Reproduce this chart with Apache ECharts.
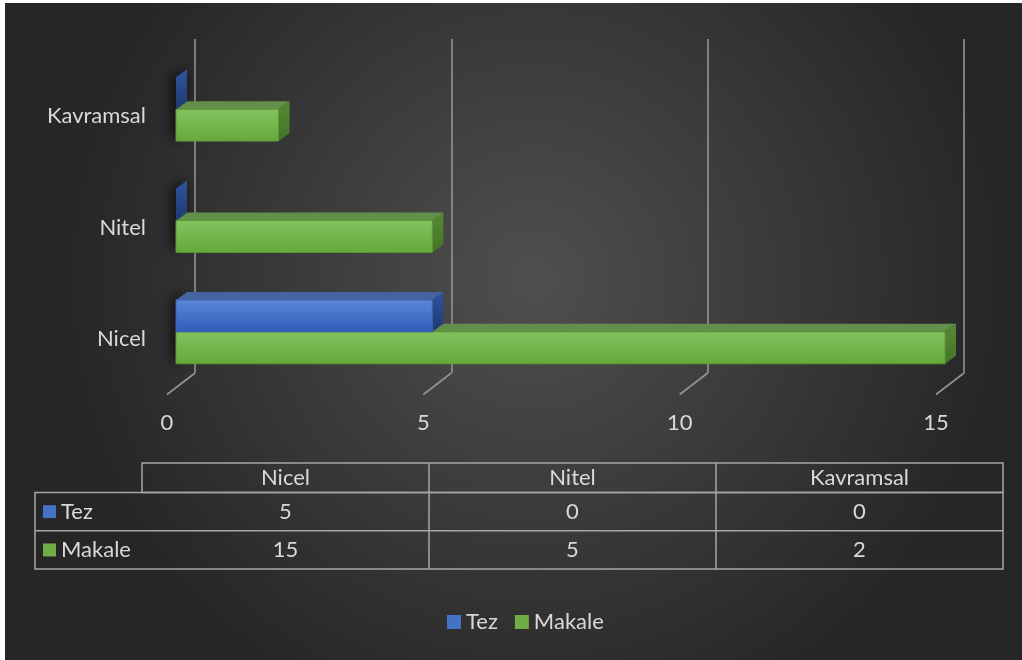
<!DOCTYPE html>
<html>
<head>
<meta charset="utf-8">
<style>
html,body{margin:0;padding:0;background:#ffffff;}
#chart{width:1022px;height:660px;}
</style>
<script src="https://cdn.jsdelivr.net/npm/echarts@6/dist/echarts.min.js"></script>
</head>
<body>
<div id="chart"></div>
<script>
// ---- data ----
const categories = ['Nicel', 'Nitel', 'Kavramsal'];
const seriesNames = ['Tez', 'Makale'];
const tezValues = [5, 0, 0];
const makaleValues = [15, 5, 2];
const xTicks = [0, 5, 10, 15];

// ---- style / layout ----
const FONT = 'Lato';
const FS = 22;
const TXT = '#d9d9d9';
const GRID_W = 769, GRID_H = 334;
const DEPTH = [11, -8];            // bar depth vector
const FLOOR = [-28, 21.5];          // back plane -> front floor
const colors = {
  Tez: {front: ['#5c87d8', '#2e5cb9'], top: '#45639f', side: ['#2f54a0', '#1f3a72'], edge: '#3a64b4', legend: '#4472c4'},
  Makale: {front: ['#85c25f', '#66a83a'], top: '#62904a', side: ['#568a33', '#457328'], edge: '#5a9a35', legend: '#70ad47'}
};

const chart = echarts.init(document.getElementById('chart'), null, {renderer: 'canvas'});

function barGeom(api, upper) {
  const v = api.value(0), cat = api.value(1);
  const p0 = api.coord([0, cat]);
  const p1 = api.coord([v, cat]);
  const band = api.size([0, 1])[1];
  const h = band * 0.287;
  const y0 = upper ? p0[1] - h : p0[1];
  return {x0: p0[0], x1: p1[0], y0: y0, y1: y0 + h, h: h};
}

function shadowRender(upper) {
  return function (params, api) {
    const g = barGeom(api, upper);
    const dx = DEPTH[0], dy = DEPTH[1];
    return {
      type: 'polygon',
      shape: {points: [[g.x0, g.y0], [g.x0 + dx, g.y0 + dy], [g.x0 + dx, g.y1 + dy], [g.x0, g.y1]]},
      style: {fill: 'rgba(20,20,20,1)', shadowBlur: 14, shadowColor: 'rgba(0,0,0,0.9)', shadowOffsetX: -3}
    };
  };
}

function barRender(name, upper) {
  const c = colors[name];
  return function (params, api) {
    const g = barGeom(api, upper);
    const x0 = g.x0, x1 = g.x1, y0 = g.y0, y1 = g.y1;
    const dx = DEPTH[0], dy = DEPTH[1];
    const children = [];
    children.push({
      type: 'polygon',
      shape: {points: [[x0, y0], [x1, y0], [x1 + dx, y0 + dy], [x0 + dx, y0 + dy]]},
      style: {fill: c.top}
    });
    children.push({
      type: 'polygon',
      shape: {points: [[x1, y0], [x1 + dx, y0 + dy], [x1 + dx, y1 + dy], [x1, y1]]},
      style: {fill: new echarts.graphic.LinearGradient(0, 0, 0, 1, [{offset: 0, color: c.side[0]}, {offset: 1, color: c.side[1]}])}
    });
    if (x1 - x0 > 0.5) {
      children.push({
        type: 'rect',
        shape: {x: x0, y: y0, width: x1 - x0, height: g.h},
        style: {
          fill: new echarts.graphic.LinearGradient(0, 0, 0, 1, [{offset: 0, color: c.front[0]}, {offset: 1, color: c.front[1]}]),
          stroke: c.edge, lineWidth: 1
        }
      });
    }
    return {type: 'group', children: children};
  };
}

// ---- table (from data arrays) ----
const T = {left: 35, labelRight: 142, colW: 287, top: 463, headH: 29.5, rowH: 38.3};
const tableEls = [];
const lineStyle = {stroke: '#a6a6a6', lineWidth: 1.5, fill: null};
const tRight = T.labelRight + T.colW * categories.length;
const tBottom = T.top + T.headH + T.rowH * seriesNames.length;
tableEls.push({type: 'rect', shape: {x: T.labelRight, y: T.top, width: tRight - T.labelRight, height: T.headH}, style: lineStyle, silent: true});
tableEls.push({type: 'rect', shape: {x: T.left, y: T.top + T.headH, width: tRight - T.left, height: T.rowH * seriesNames.length}, style: lineStyle, silent: true});
for (let r = 1; r < seriesNames.length; r++) {
  const y = T.top + T.headH + T.rowH * r;
  tableEls.push({type: 'line', shape: {x1: T.left, y1: y, x2: tRight, y2: y}, style: lineStyle, silent: true});
}
for (let c = 1; c < categories.length; c++) {
  const x = T.labelRight + T.colW * c;
  tableEls.push({type: 'line', shape: {x1: x, y1: T.top, x2: x, y2: tBottom}, style: lineStyle, silent: true});
}
categories.forEach((cat, i) => {
  tableEls.push({type: 'text', x: T.labelRight + T.colW * (i + 0.5), y: T.top + T.headH / 2,
    style: {text: cat, fill: TXT, font: FS + 'px ' + FONT, align: 'center', verticalAlign: 'middle'}, silent: true});
});
const tableVals = [tezValues, makaleValues];
seriesNames.forEach((s, r) => {
  const cy = T.top + T.headH + T.rowH * (r + 0.5);
  tableEls.push({type: 'rect', shape: {x: 43, y: cy - 6.5, width: 13, height: 13}, style: {fill: colors[s].legend}, silent: true});
  tableEls.push({type: 'text', x: 61, y: cy,
    style: {text: s, fill: TXT, font: FS + 'px ' + FONT, align: 'left', verticalAlign: 'middle'}, silent: true});
  tableVals[r].forEach((v, i) => {
    tableEls.push({type: 'text', x: T.labelRight + T.colW * (i + 0.5), y: cy,
      style: {text: String(v), fill: TXT, font: FS + 'px ' + FONT, align: 'center', verticalAlign: 'middle'}, silent: true});
  });
});

const option = {
  animation: false,
  backgroundColor: 'transparent',
  textStyle: {fontFamily: FONT},
  graphic: [
    {type: 'rect', z: -10, silent: true, shape: {x: 5, y: 3, width: 1017, height: 657},
      style: {fill: new echarts.graphic.RadialGradient(0.52, 0.42, 0.72, [{offset: 0, color: '#4f4f4f'}, {offset: 1, color: '#262626'}])}}
  ].concat(tableEls),
  legend: {
    data: seriesNames.map(n => ({name: n, icon: 'rect', itemStyle: {color: colors[n].legend}})),
    left: 442, top: 606, itemWidth: 14, itemHeight: 14, itemGap: 17,
    textStyle: {color: TXT, fontSize: FS, fontFamily: FONT}
  },
  grid: [
    {left: 195, top: 39, width: GRID_W, height: GRID_H},                 // back plane
    {left: 195 - 19, top: 39 + 14.5, width: GRID_W, height: GRID_H},     // bar front plane
    {left: 195 + FLOOR[0], top: 39 + FLOOR[1], width: GRID_W, height: GRID_H} // floor front plane (labels)
  ],
  xAxis: [0, 1, 2].map(i => ({
    type: 'value', gridIndex: i, min: 0, max: 15, interval: 5,
    axisLine: {show: false}, axisTick: {show: false},
    splitLine: {show: i === 0, lineStyle: {color: '#949494', width: 1.6}},
    axisLabel: {show: i === 2, color: TXT, fontSize: FS, fontFamily: FONT, margin: 17}
  })),
  yAxis: [0, 1, 2].map(i => ({
    type: 'category', gridIndex: i, data: categories,
    axisLine: {show: false}, axisTick: {show: false}, splitLine: {show: false},
    axisLabel: {show: i === 2, color: TXT, fontSize: FS, fontFamily: FONT, margin: 21}
  })),
  series: [
    {
      type: 'custom', name: 'floor', xAxisIndex: 0, yAxisIndex: 0, silent: true, z: 1,
      data: xTicks.map(t => [t]),
      encode: {x: 0},
      renderItem: function (params, api) {
        const x = api.coord([api.value(0), 0])[0];
        const yb = params.coordSys.y + params.coordSys.height;
        return {type: 'line', shape: {x1: x, y1: yb, x2: x + FLOOR[0], y2: yb + FLOOR[1]},
          style: {stroke: '#949494', lineWidth: 1.6}};
      }
    },
    {
      type: 'custom', name: 'shadowMakale', xAxisIndex: 1, yAxisIndex: 1, z: 2, silent: true,
      data: makaleValues.map((v, i) => [v, i]), encode: {x: 0, y: 1},
      renderItem: shadowRender(false)
    },
    {
      type: 'custom', name: 'shadowTez', xAxisIndex: 1, yAxisIndex: 1, z: 2, silent: true,
      data: tezValues.map((v, i) => [v, i]), encode: {x: 0, y: 1},
      renderItem: shadowRender(true)
    },
    {
      type: 'custom', name: 'Makale', xAxisIndex: 1, yAxisIndex: 1, z: 3,
      itemStyle: {color: colors.Makale.legend},
      data: makaleValues.map((v, i) => [v, i]),
      encode: {x: 0, y: 1},
      renderItem: barRender('Makale', false)
    },
    {
      type: 'custom', name: 'Tez', xAxisIndex: 1, yAxisIndex: 1, z: 4,
      itemStyle: {color: colors.Tez.legend},
      data: tezValues.map((v, i) => [v, i]),
      encode: {x: 0, y: 1},
      renderItem: barRender('Tez', true)
    }
  ]
};
chart.setOption(option);
</script>
</body>
</html>
